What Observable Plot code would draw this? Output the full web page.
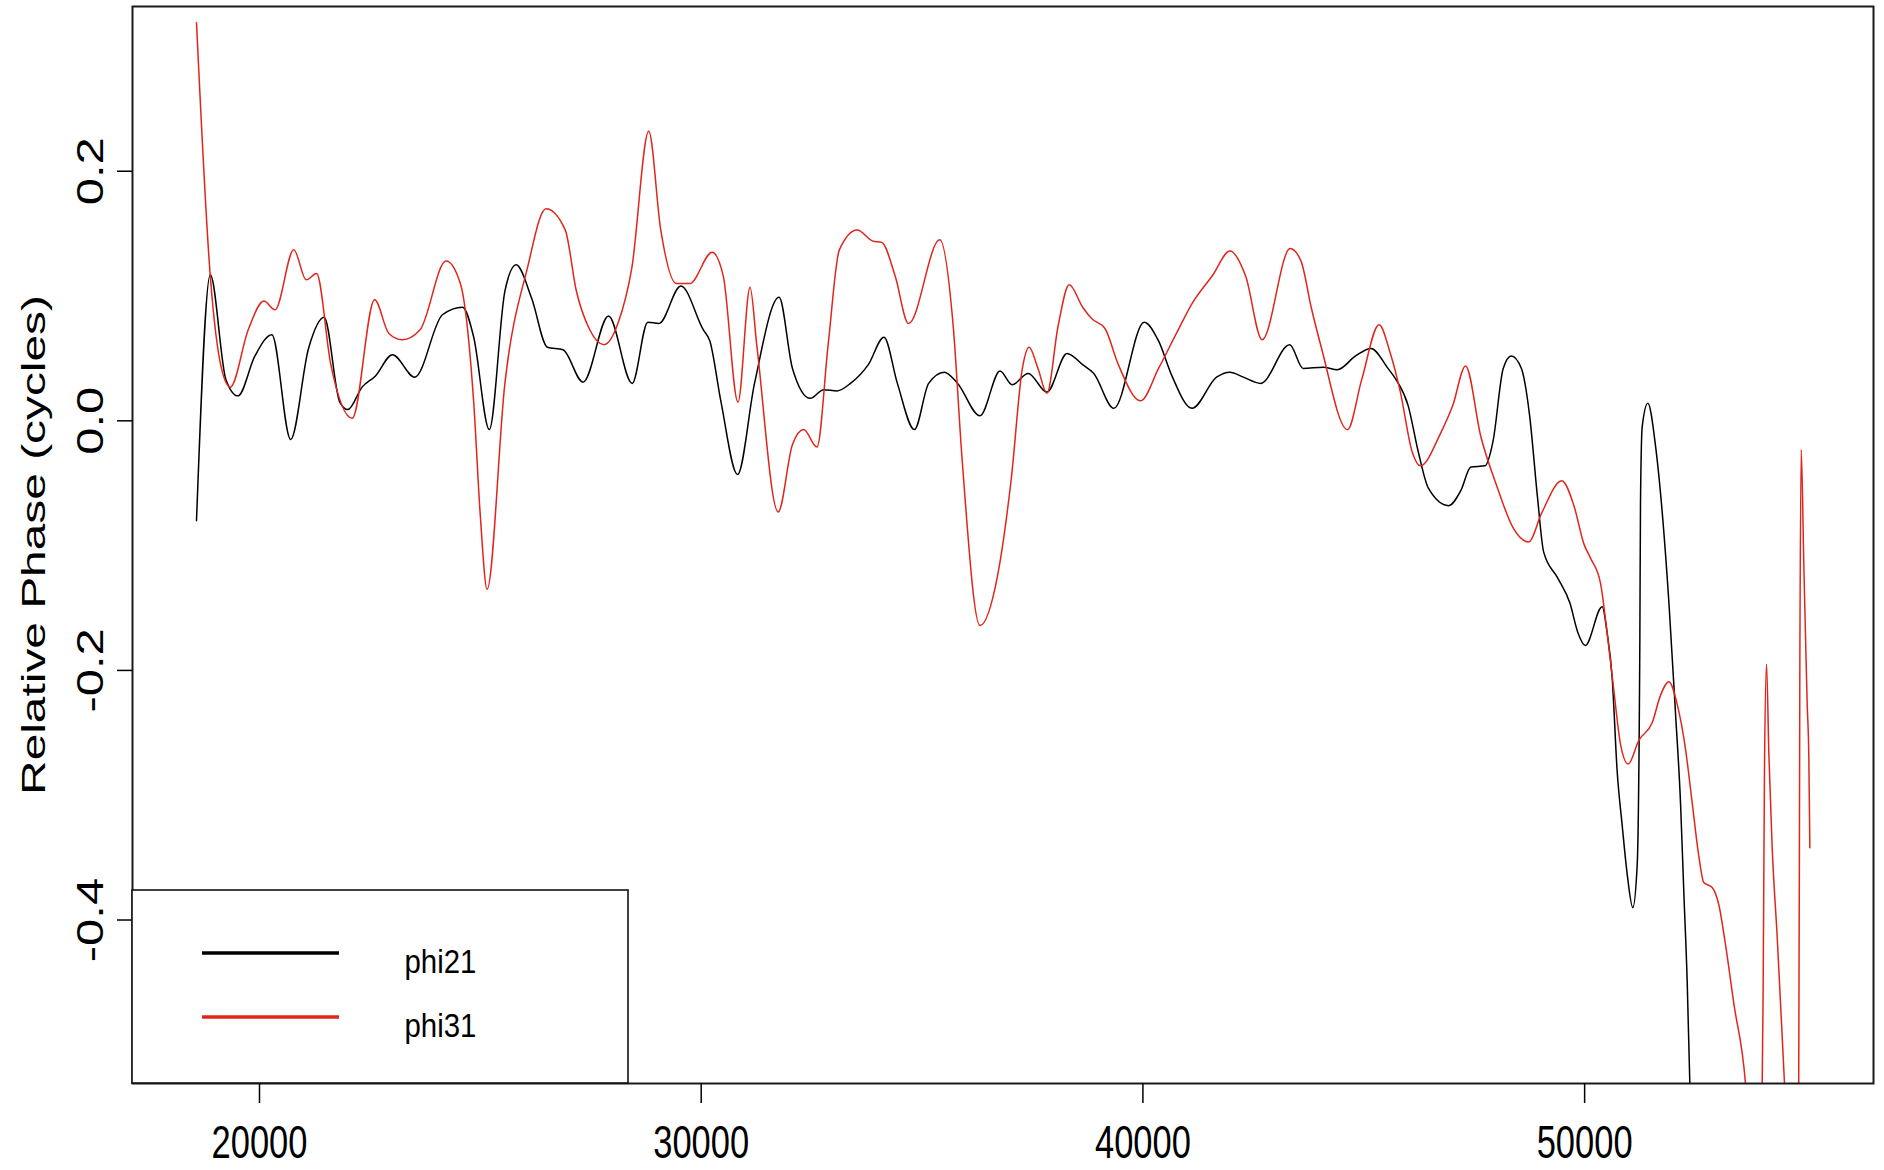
<!DOCTYPE html>
<html><head><meta charset="utf-8">
<script src="https://cdn.jsdelivr.net/npm/d3@7"></script>
<script src="https://cdn.jsdelivr.net/npm/@observablehq/plot@0.6"></script>
<style>html,body{margin:0;padding:0;background:#fff;}</style>
</head><body><div id="chart"></div>
<script>
const phi21X = [18574, 18886, 19240, 19513, 19897, 20281, 20706, 21110, 21464, 21817, 22000, 22323, 22626, 23010, 23515, 24142, 24597, 24850, 25203, 25556, 25810, 26163, 26517, 26871, 27326, 27902, 28437, 28791, 29044, 29539, 30045, 30196, 30449, 30823, 31207, 31763, 32066, 32470, 32773, 33077, 33380, 33784, 34138, 34441, 34826, 35149, 35502, 35806, 36311, 36766, 37039, 37403, 37827, 38282, 38636, 38888, 39343, 40030, 40354, 40657, 41112, 41667, 41971, 42274, 42665, 43324, 43626, 44083, 44404, 44816, 45164, 45548, 45731, 46006, 46235, 46463, 46921, 47196, 47425, 47745, 47928, 48157, 48340, 48569, 48752, 48935, 49072, 49392, 49667, 49850, 50015, 50397, 50510, 50624, 50737, 50850, 50963, 51091, 51190, 51250, 51265, 51303, 51431, 51605, 51756, 51907, 52057, 52171, 52246, 52322, 52382, 52430];
const phi21Y = [-0.080, 0.117, 0.033, 0.020, 0.052, 0.069, -0.015, 0.058, 0.083, 0.015, 0.009, 0.027, 0.036, 0.053, 0.035, 0.085, 0.091, 0.067, -0.007, 0.104, 0.125, 0.098, 0.059, 0.057, 0.031, 0.084, 0.030, 0.079, 0.078, 0.108, 0.073, 0.064, 0.015, -0.043, 0.030, 0.099, 0.042, 0.018, 0.025, 0.024, 0.030, 0.045, 0.067, 0.030, -0.007, 0.030, 0.039, 0.030, 0.004, 0.040, 0.029, 0.038, 0.023, 0.054, 0.045, 0.038, 0.010, 0.079, 0.064, 0.036, 0.010, 0.035, 0.039, 0.035, 0.030, 0.061, 0.042, 0.043, 0.041, 0.052, 0.058, 0.042, 0.033, 0.012, -0.025, -0.054, -0.068, -0.056, -0.037, -0.036, -0.016, 0.042, 0.052, 0.042, 0.005, -0.062, -0.105, -0.126, -0.146, -0.170, -0.180, -0.149, -0.170, -0.206, -0.281, -0.324, -0.363, -0.390, -0.356, -0.177, -0.066, -0.005, 0.014, -0.020, -0.073, -0.145, -0.234, -0.306, -0.378, -0.449, -0.531, -0.62];

const phi31X = [18574, 18886, 19139, 19341, 19745, 20099, 20352, 20776, 21059, 21292, 21615, 22100, 22606, 22929, 23232, 23636, 24223, 24547, 24849, 25001, 25153, 25556, 26062, 26487, 26921, 27174, 27477, 27801, 28124, 28427, 28812, 29084, 29438, 29741, 30247, 30500, 30833, 31106, 31257, 31743, 32066, 32319, 32622, 32874, 33127, 33532, 33885, 34087, 34391, 34694, 35401, 35705, 35907, 36311, 36715, 37018, 37271, 37423, 37625, 37827, 38080, 38332, 38636, 38838, 39141, 39444, 39949, 40354, 40758, 41112, 41567, 41971, 42325, 42699, 43333, 43580, 43809, 44038, 44633, 44953, 45347, 45594, 45823, 46097, 46280, 46738, 47012, 47305, 47653, 48019, 48385, 48733, 49026, 49484, 49758, 49987, 50133, 50359, 50510, 50661, 50812, 50986, 51227, 51529, 51718, 51907, 52095, 52284, 52435, 52586, 52699, 52888, 53039, 53190, 53378, 53642, 53850, 54000, 54042, 54072, 54118, 54171, 54246, 54359, 54525, 54690, 54845, 54873, 54903, 54963, 55001, 55039, 55076, 55099];
const phi31Y = [0.319, 0.116, 0.042, 0.027, 0.073, 0.096, 0.089, 0.137, 0.113, 0.118, 0.045, 0.002, 0.097, 0.070, 0.065, 0.073, 0.128, 0.110, 0.015, -0.077, -0.135, 0.030, 0.122, 0.170, 0.153, 0.104, 0.073, 0.061, 0.079, 0.122, 0.232, 0.153, 0.110, 0.110, 0.135, 0.116, 0.015, 0.107, 0.061, -0.073, -0.019, -0.007, -0.021, 0.061, 0.137, 0.153, 0.144, 0.143, 0.116, 0.078, 0.145, 0.076, -0.031, -0.164, -0.123, -0.047, 0.042, 0.059, 0.042, 0.022, 0.076, 0.109, 0.091, 0.082, 0.074, 0.045, 0.016, 0.042, 0.070, 0.094, 0.116, 0.136, 0.116, 0.065, 0.138, 0.128, 0.091, 0.059, -0.007, 0.033, 0.077, 0.055, 0.024, -0.025, -0.036, -0.010, 0.012, 0.044, -0.013, -0.053, -0.086, -0.097, -0.074, -0.048, -0.068, -0.099, -0.110, -0.130, -0.170, -0.216, -0.259, -0.275, -0.256, -0.242, -0.220, -0.209, -0.227, -0.263, -0.306, -0.349, -0.370, -0.374, -0.388, -0.420, -0.467, -0.531, -0.65, -0.60, -0.452, -0.28, -0.195, -0.267, -0.342, -0.413, -0.531, -0.65, -0.55, -0.191, -0.023, -0.116, -0.173, -0.227, -0.270, -0.342];

const xTicks = [20000, 30000, 40000, 50000];
const yTicks = [-0.4, -0.2, 0.0, 0.2];
const seriesNames = ["phi21", "phi31"];
const seriesColors = ["#000000", "#e0261c"];
const yLabel = "Relative Phase (cycles)";

const rows = [];
for (let i = 0; i < Math.min(phi21X.length, phi21Y.length); i++) rows.push({series: "phi21", x: phi21X[i], y: phi21Y[i]});
for (let i = 0; i < Math.min(phi31X.length, phi31Y.length); i++) rows.push({series: "phi31", x: phi31X[i], y: phi31Y[i]});

const font = "'Liberation Sans', Arial, Helvetica, sans-serif";
const fmtX = d3.format("d");
const fmtY = d => d.toFixed(1);

const svg = Plot.plot({
  width: 1884, height: 1170,
  marginTop: 6, marginRight: 11, marginBottom: 87, marginLeft: 132,
  style: {fontFamily: font, background: "white", color: "black"},
  x: {domain: [17125, 56540]},
  y: {domain: [-0.531, 0.332]},
  color: {domain: seriesNames, range: seriesColors},
  marks: [
    Plot.line(rows, {x: "x", y: "y", z: "series", stroke: "series", strokeWidth: 1.5, curve: "monotone-x", clip: true}),
    Plot.frame({stroke: "#1a1a1a", strokeWidth: 2}),
    Plot.axisX({ticks: xTicks, tickSize: 20, tickPadding: 22, tickFormat: fmtX, fontSize: 46, label: null, strokeWidth: 1.5}),
    Plot.axisY({ticks: yTicks, tickSize: 15, tickPadding: 15, tickRotate: -90, tickFormat: fmtY, fontSize: 36, label: null, strokeWidth: 1.5}),
    Plot.text([yLabel], {text: d => d, frameAnchor: "left", dx: -88, rotate: -90, lineAnchor: "bottom", textAnchor: "middle", fontSize: 33})
  ]
});

// Mimic the stretched glyph proportions of the original raster
const xs = new Set(xTicks.map(fmtX));
const ys = new Set(yTicks.map(fmtY));
svg.querySelectorAll("text").forEach(t => {
  const s = t.textContent;
  let k = null;
  if (xs.has(s)) k = 0.75;
  else if (ys.has(s)) k = 1.36;
  else if (s === yLabel) k = 1.45;
  if (k !== null) t.setAttribute("transform", (t.getAttribute("transform") || "") + ` scale(${k},1)`);
});

// Legend box (bottom-left inside plot)
const g = d3.select(svg).append("g").attr("font-family", font).attr("text-anchor", "start");
g.append("rect").attr("x", 132).attr("y", 890).attr("width", 496).attr("height", 193)
  .attr("fill", "white").attr("stroke", "#111").attr("stroke-width", 1.6);
seriesNames.forEach((name, i) => {
  const yy = 953 + i * 64;
  g.append("line").attr("x1", 202).attr("x2", 339).attr("y1", yy).attr("y2", yy)
    .attr("stroke", seriesColors[i]).attr("stroke-width", 3.5);
  g.append("text").attr("transform", `translate(404.5,${yy + 20}) scale(0.865,1)`)
    .attr("text-anchor", "start").attr("font-size", 34).attr("fill", "black").text(name);
});

document.getElementById("chart").appendChild(svg);
</script>
</body></html>
